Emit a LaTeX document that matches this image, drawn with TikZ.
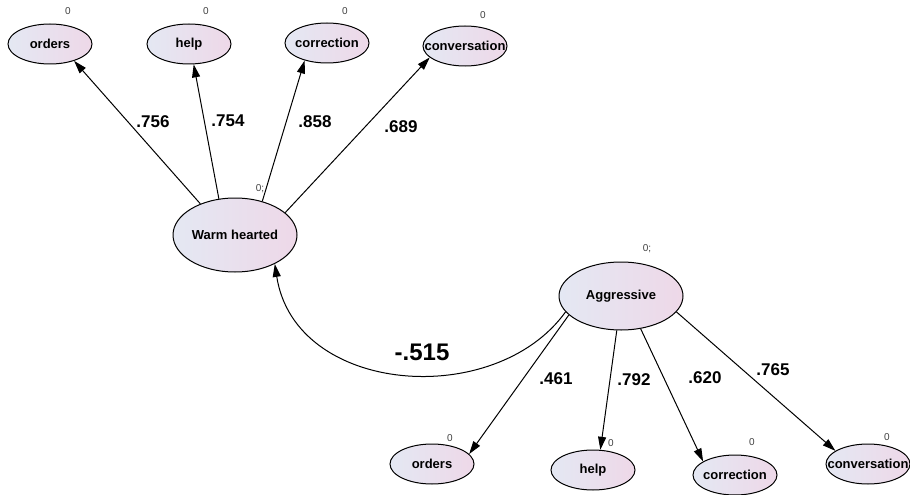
\documentclass[tikz,border=0pt]{standalone}
\usepackage{fontspec}
\setmainfont{Liberation Sans}
\usetikzlibrary{shapes.geometric,arrows.meta}
\definecolor{lvleft}{RGB}{228,232,243}
\definecolor{lvright}{RGB}{238,216,232}
\begin{document}
\begin{tikzpicture}[x=1pt,y=-1pt,
	var/.style={ellipse,draw,line width=1pt,inner xsep=-40pt,inner ysep=-15pt,left color=lvleft,right color=lvright,font=\fontsize{13}{15}\selectfont\bfseries},
	obs/.style={var,minimum width=84pt,minimum height=40pt},
	lat/.style={var,minimum width=124pt,minimum height=74pt},
	load/.style={font=\fontsize{17}{19}\selectfont\bfseries},
	zero/.style={font=\fontsize{10}{12}\selectfont,text=black!75},
	arr/.style={line width=1pt,-{Triangle[length=13pt,width=8pt]}}]
		\useasboundingbox (0,0) rectangle (910,495);
		% latent variables
		\node[lat] (wh) at (235,235) {Warm hearted};
		\node[lat,minimum height=68pt] (ag) at (621,296) {Aggressive};
		% observed, top row
		\node[obs] (o1) at (50,44) {orders};
		\node[obs] (h1) at (189,44) {help};
		\node[obs] (c1) at (327,43) {correction};
		\node[obs] (v1) at (465,46) {conversation};
		% observed, bottom row
		\node[obs] (o2) at (432,464) {orders};
		\node[obs] (h2) at (593,470) {help};
		\node[obs] (c2) at (735,475) {correction};
		\node[obs] (v2) at (868,464) {conversation};
		% small labels
		\node[zero] (z1) at (68,11) {0};
		\node[zero] (z2) at (206,11) {0};
		\node[zero] (z3) at (345,11) {0};
		\node[zero] (z4) at (483,15) {0};
		\node[zero] (z5) at (260,189) {0;};
		\node[zero] (z6) at (647,249) {0;};
		\node[zero] (z7) at (450,438) {0};
		\node[zero] (z8) at (611,443) {0};
		\node[zero] (z9) at (752,442) {0};
		\node[zero] (z10) at (887,437) {0};
		% loadings
		\draw[arr] (wh.138) -- (o1.-35);
		\draw[arr] (wh.114) -- (h1.-77);
		\draw[arr] (wh.51) -- (c1.-142);
		\draw[arr] (wh.24) -- (v1.-162);
		\draw[arr] (ag.-160) -- (o2.15);
		\draw[arr] (ag.-97) -- (h2.70);
		\draw[arr] (ag.-59) -- (c2.157);
		\draw[arr] (ag.-16) -- (v2.158);
		\draw[arr,{Triangle[length=13pt,width=8pt]}-] (wh.-36) .. controls (295,395) and (495,410) .. (ag.-164);
		\node[load] (l1) at (153,122) {.756};
		\node[load] (l2) at (228,121) {.754};
		\node[load] (l3) at (315,122) {.858};
		\node[load] (l4) at (401,127) {.689};
		\node[load] (l5) at (556,379) {.461};
		\node[load] (l6) at (634,380) {.792};
		\node[load] (l7) at (705,378) {.620};
		\node[load] (l8) at (773,370) {.765};
		\node[font=\fontsize{24}{26}\selectfont\bfseries] (r1) at (422,352) {-.515};
\end{tikzpicture}
\end{document}
